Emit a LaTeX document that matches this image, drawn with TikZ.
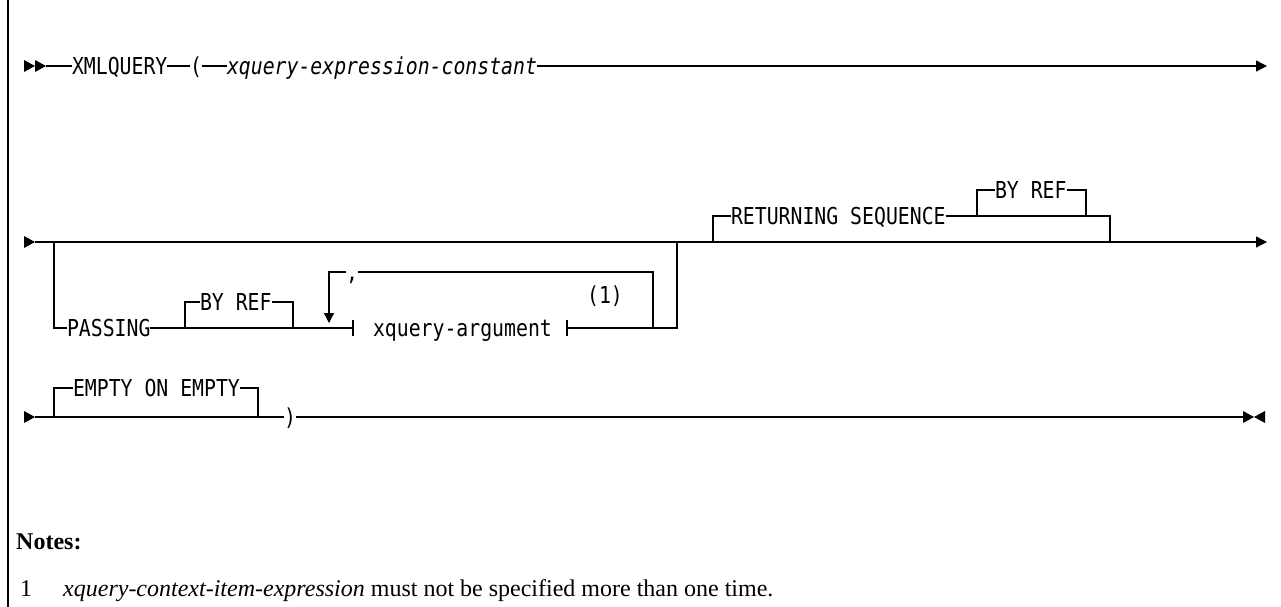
\documentclass[tikz,border=0pt]{standalone}
\usepackage{fontspec}
\setmainfont{Liberation Serif}
\newfontfamily\rrfont[FakeStretch=0.85]{DejaVu Sans Mono}
\usetikzlibrary{arrows.meta}
\begin{document}
\begin{tikzpicture}[x=1pt,y=-1pt,
  rr/.style={font=\rrfont\fontsize{23.3}{24}\selectfont, inner sep=0pt, outer sep=0pt, text height=17pt, text depth=0pt, anchor=west},
  rri/.style={rr, font=\rrfont\itshape\fontsize{23.3}{24}\selectfont},
  ln/.style={line width=1.3pt},
  endarr/.style={-{Triangle[length=11pt,width=11pt]}},
  downarr/.style={-{Triangle[length=10pt,width=10pt]}},
  note/.style={anchor=base west, inner sep=0pt, font=\fontsize{24}{28}\selectfont},
  ]
\useasboundingbox (0,0) rectangle (1281,607);
\draw[line width=1.3pt] (8,0) -- (8,607);

% ---- line 1
\fill (24,60) -- (35,66) -- (24,72) -- cycle;
\fill (35,60) -- (46,66) -- (35,72) -- cycle;
\coordinate (s1) at (46,66);
\node[rr] (xml) at (72,66) {XMLQUERY};
\node[rr] (lp) at (190,66) {(};
\node[rri] (xec) at (227,66) {xquery-expression-constant};
\coordinate (e1) at (1267,66);
\draw[ln] (s1) -- (xml.west);
\draw[ln] (xml.east) -- (lp.west);
\draw[ln] (lp.east) -- (xec.west);
\draw[ln,endarr] (xec.east) -- (e1);

% ---- line 2
\fill (24,236) -- (35,242) -- (24,248) -- cycle;
\coordinate (s2) at (35,242);
\coordinate (e2) at (1267,242);
\draw[ln,endarr] (s2) -- (e2);

\coordinate (pb1) at (54,242);
\node[rr] (pass) at (67,328) {PASSING};
\draw[ln] (pb1) |- (pass.west);
\coordinate (br1) at (185,328);
\coordinate (br2) at (293,328);
\node[rr] (byref1) at (200,302) {BY REF};
\draw[ln] (br1) |- (byref1.west);
\draw[ln] (byref1.east) -| (br2);

\coordinate (tl) at (353,328);
\coordinate (tr) at (567,328);
\node[rr] (arg) at (373,328) {xquery-argument};
\draw[ln] (pass.east) -- (tl);
\draw[ln] ([yshift=-8pt]tl) -- ([yshift=8pt]tl);
\draw[ln] ([yshift=-8pt]tr) -- ([yshift=8pt]tr);
\coordinate (jr) at (653,328);
\coordinate (jo) at (677,328);
\coordinate (jo2) at (677,242);
\draw[ln] (tr) -- (jo) -- (jo2);

\node[rr] (comma) at (346,272) {,};
\coordinate (la) at (329,323);
\draw[ln] (jr) |- (comma.east);
\draw[ln,downarr] (comma.west) -| (la);
\node[rr, anchor=center] (n1) at (605,295) {(1)};

\coordinate (ret1) at (713,242);
\coordinate (ret2) at (1110,242);
\node[rr] (ret) at (731,216) {RETURNING SEQUENCE};
\draw[ln] (ret1) |- (ret.west);
\draw[ln] (ret.east) -| (ret2);
\coordinate (b2l) at (977,216);
\coordinate (b2r) at (1086,216);
\node[rr] (byref2) at (995,190) {BY REF};
\draw[ln] (b2l) |- (byref2.west);
\draw[ln] (byref2.east) -| (b2r);

% ---- line 3
\fill (24,411) -- (35,417) -- (24,423) -- cycle;
\coordinate (s3) at (35,417);
\node[rr] (rp) at (284,417) {)};
\coordinate (el) at (54,417);
\coordinate (er) at (258,417);
\node[rr] (emp) at (73,388) {EMPTY ON EMPTY};
\draw[ln] (s3) -- (rp.west);
\draw[ln] (el) |- (emp.west);
\draw[ln] (emp.east) -| (er);
\coordinate (e3) at (1243,417);
\draw[ln] (rp.east) -- (e3);
\fill (1243,411) -- (1254,417) -- (1243,423) -- cycle;
\fill (1265,411) -- (1254,417) -- (1265,423) -- cycle;

% ---- notes
\node[note, font=\bfseries\fontsize{24}{28}\selectfont] (notes) at (16,549) {Notes:};
\node[note] (num) at (20,596) {1};
\node[note] (ntext) at (63,596) {\textit{xquery-context-item-expression} must not be specified more than one time.};
\end{tikzpicture}
\end{document}
